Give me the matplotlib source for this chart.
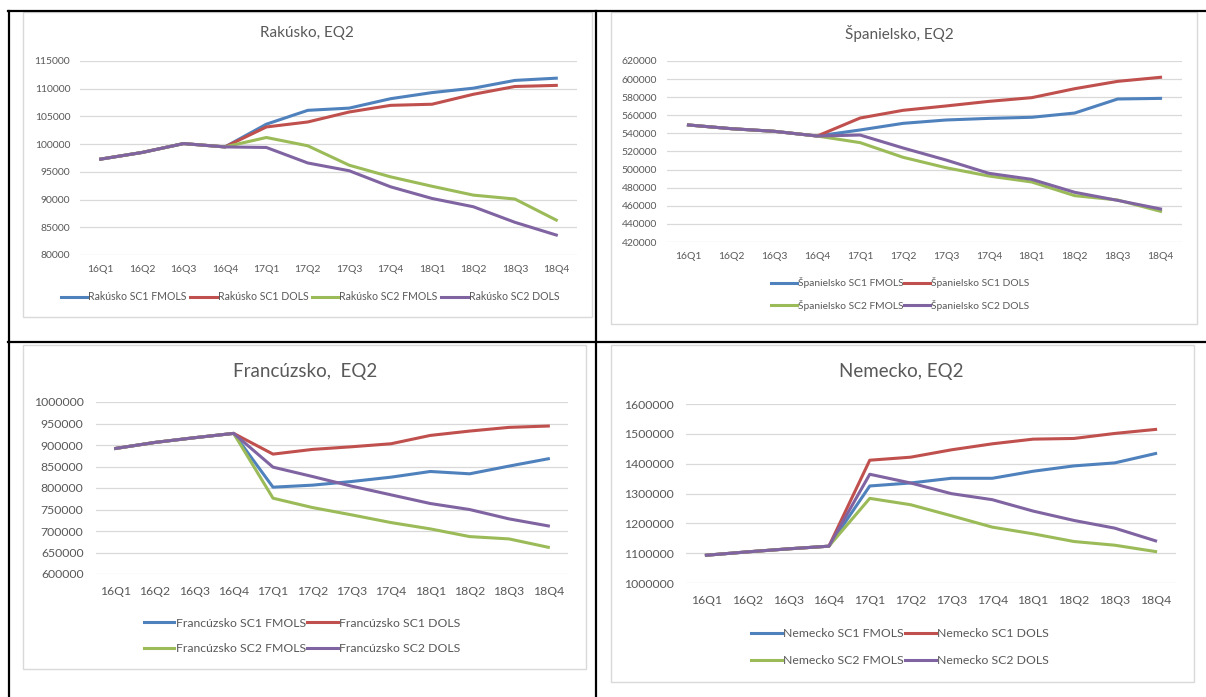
import matplotlib
matplotlib.use("Agg")
import matplotlib.pyplot as plt
from matplotlib.patches import Rectangle
from matplotlib.lines import Line2D

plt.rcParams['font.family'] = ['Lato', 'DejaVu Sans']

quarters = ["16Q1", "16Q2", "16Q3", "16Q4", "17Q1", "17Q2", "17Q3", "17Q4",
            "18Q1", "18Q2", "18Q3", "18Q4"]
series_names = ["SC1 FMOLS", "SC1 DOLS", "SC2 FMOLS", "SC2 DOLS"]

# Rakusko
rak_sc1_fmols = [97300, 98500, 100100, 99500, 103600, 106100, 106500, 108200, 109300, 110100, 111500, 111900]
rak_sc1_dols = [97300, 98500, 100100, 99500, 103100, 104000, 105800, 107000, 107200, 109000, 110400, 110600]
rak_sc2_fmols = [97300, 98500, 100100, 99500, 101200, 99700, 96200, 94100, 92400, 90800, 90100, 86300]
rak_sc2_dols = [97300, 98500, 100100, 99500, 99400, 96600, 95200, 92300, 90200, 88700, 85900, 83600]

# Spanielsko
spa_sc1_fmols = [549300, 545200, 542300, 537100, 543800, 551100, 554800, 556600, 557800, 562500, 578000, 578700]
spa_sc1_dols = [549300, 545200, 542300, 537100, 557000, 565500, 570300, 575400, 579500, 589400, 597500, 602000]
spa_sc2_fmols = [549300, 545200, 542300, 537100, 529800, 513600, 502100, 492900, 486300, 471200, 466400, 453900]
spa_sc2_dols = [549300, 545200, 542300, 537100, 538200, 523900, 510600, 495900, 489200, 474900, 466000, 456500]

# Francuzsko
fra_sc1_fmols = [892000, 906000, 916900, 927000, 801900, 806600, 815100, 825200, 838400, 833000, 850900, 868000]
fra_sc1_dols = [892000, 906000, 916900, 927000, 878800, 889700, 895900, 902900, 922300, 932400, 941000, 944100]
fra_sc2_fmols = [892000, 906000, 916900, 927000, 776300, 754600, 737500, 719600, 704900, 687000, 681600, 662100]
fra_sc2_dols = [892000, 906000, 916900, 927000, 848500, 826800, 804300, 784100, 763900, 749900, 728200, 711800]

# Nemecko
nem_sc1_fmols = [1093100, 1104300, 1114400, 1123400, 1325200, 1335300, 1351000, 1351000, 1374600, 1392500, 1402600, 1434000]
nem_sc1_dols = [1093100, 1104300, 1114400, 1123400, 1411600, 1421700, 1446400, 1466500, 1482200, 1484500, 1501300, 1514800]
nem_sc2_fmols = [1093100, 1104300, 1114400, 1123400, 1283700, 1262400, 1225400, 1187300, 1164900, 1139100, 1126700, 1105400]
nem_sc2_dols = [1093100, 1104300, 1114400, 1123400, 1364500, 1335300, 1299500, 1279300, 1241100, 1209700, 1183900, 1141300]

colors = ["#4F81BD", "#C0504D", "#9BBB59", "#8064A2"]
text_col = "#595959"
grid_col = "#D9D9D9"

W, H = 1206, 697
fig = plt.figure(figsize=(W / 100, H / 100), dpi=100)


def fx(x):
    return x / W


def fy(y):
    return 1 - y / H


def draw_panel(country, title, data, box, plot, yticks, title_pos, title_size,
               tick_size, ypad, legend_pos, ncol, legend_size, row_gap, col_gap):
    # chart frame (light gray like in excel)
    bx0, by0, bx1, by1 = box
    fig.add_artist(Rectangle((fx(bx0), fy(by1)), fx(bx1) - fx(bx0), (by1 - by0) / H,
                             transform=fig.transFigure, fill=False,
                             edgecolor=grid_col, lw=1))
    fig.text(fx(title_pos[0]), fy(title_pos[1]), title, ha="center", va="center",
             fontsize=title_size, color=text_col)

    l, t, r, b = plot
    ax = fig.add_axes([fx(l), fy(b), fx(r) - fx(l), (b - t) / H])
    handles = []
    for vals, name, c in zip(data, series_names, colors):
        ln, = ax.plot(range(len(quarters)), vals, color=c, lw=2.2,
                      solid_joinstyle="round", label=country + " " + name)
        handles.append(ln)
    ax.set_xlim(-0.5, len(quarters) - 0.5)
    ax.set_ylim(yticks[0], yticks[-1])
    ax.set_yticks(yticks)
    ax.set_yticklabels([str(v) for v in yticks])
    ax.set_xticks(range(len(quarters)))
    ax.set_xticklabels(quarters)
    ax.yaxis.grid(True, color=grid_col, lw=0.9)
    ax.set_axisbelow(True)
    for s in ax.spines.values():
        s.set_visible(False)
    ax.tick_params(axis="both", length=0, labelsize=tick_size, colors=text_col)
    ax.tick_params(axis="y", pad=ypad)
    ax.tick_params(axis="x", pad=tick_size * 1.0)
    ax.set_facecolor("none")

    if ncol == 2:
        # excel fills legend row by row
        order = [0, 2, 1, 3]
        handles = [handles[i] for i in order]
    ax.legend(handles=handles, loc="center", ncol=ncol, frameon=False,
              bbox_to_anchor=(fx(legend_pos[0]), fy(legend_pos[1])),
              bbox_transform=fig.transFigure, fontsize=legend_size,
              handlelength=2.5, handletextpad=0.1, columnspacing=col_gap,
              labelspacing=row_gap, labelcolor=text_col, borderpad=0)


draw_panel("Rakúsko", "Rakúsko, EQ2",
           [rak_sc1_fmols, rak_sc1_dols, rak_sc2_fmols, rak_sc2_dols],
           box=(23, 12, 592, 317), plot=(80, 61, 577, 255),
           yticks=list(range(80000, 115001, 5000)), title_pos=(307, 33),
           title_size=11, tick_size=7.5, ypad=7, legend_pos=(310, 297), ncol=4,
           legend_size=7.6, row_gap=0.5, col_gap=0.35)

draw_panel("Španielsko", "Španielsko, EQ2",
           [spa_sc1_fmols, spa_sc1_dols, spa_sc2_fmols, spa_sc2_dols],
           box=(611, 12, 1197, 324), plot=(667, 61, 1182, 242),
           yticks=list(range(420000, 620001, 20000)), title_pos=(899, 33),
           title_size=11, tick_size=7.5, ypad=7, legend_pos=(900, 294), ncol=2,
           legend_size=7.4, row_gap=1.1, col_gap=0.1)

draw_panel("Francúzsko", "Francúzsko,  EQ2",
           [fra_sc1_fmols, fra_sc1_dols, fra_sc2_fmols, fra_sc2_dols],
           box=(23, 345, 586, 669), plot=(96, 402, 568, 574),
           yticks=list(range(600000, 1000001, 50000)), title_pos=(305, 372),
           title_size=13.5, tick_size=8.8, ypad=9, legend_pos=(302, 636), ncol=2,
           legend_size=8.8, row_gap=1.2, col_gap=0.1)

draw_panel("Nemecko", "Nemecko, EQ2",
           [nem_sc1_fmols, nem_sc1_dols, nem_sc2_fmols, nem_sc2_dols],
           box=(611, 345, 1194, 682), plot=(686, 404, 1176, 583),
           yticks=list(range(1000000, 1600001, 100000)), title_pos=(901, 372),
           title_size=13.5, tick_size=8.8, ypad=9, legend_pos=(900, 647), ncol=2,
           legend_size=8.8, row_gap=1.3, col_gap=0.1)

# table borders around the four charts
border = dict(color="black", lw=1.6, transform=fig.transFigure)
fig.add_artist(Line2D([fx(8), 1], [fy(11), fy(11)], **border))
fig.add_artist(Line2D([fx(8), 1], [fy(342), fy(342)], **border))
fig.add_artist(Line2D([fx(9), fx(9)], [fy(11), 0], **border))
fig.add_artist(Line2D([fx(596), fx(596)], [fy(11), 0], **border))

fig.savefig("out.png", dpi=100, facecolor="white")
